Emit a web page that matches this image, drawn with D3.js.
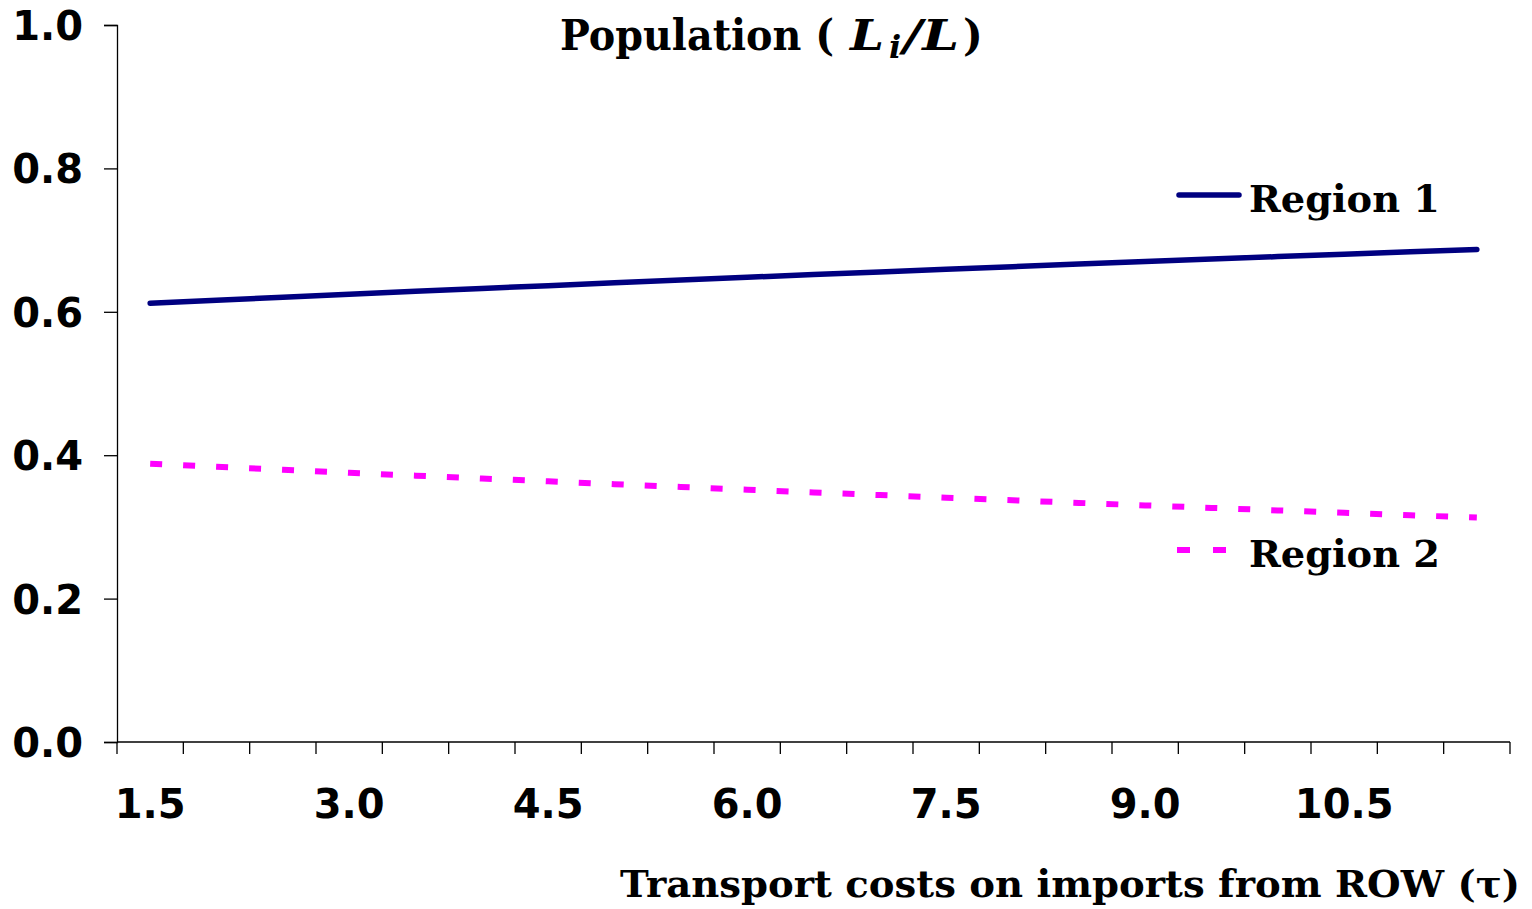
<!DOCTYPE html>
<html><head><meta charset="utf-8">
<script src="https://cdn.jsdelivr.net/npm/d3@7"></script>
<style>body{margin:0;background:#fff}</style>
</head><body>
<svg id="chart" width="1532" height="909"></svg>
<script>
const categories = [1.5,2.0,2.5,3.0,3.5,4.0,4.5,5.0,5.5,6.0,6.5,7.0,7.5,8.0,8.5,9.0,9.5,10.0,10.5,11.0,11.5];
const region1 = [0.6120,0.6162,0.6203,0.6245,0.6285,0.6325,0.6365,0.6404,0.6443,0.6481,0.6519,0.6556,0.6593,0.6629,0.6665,0.6700,0.6735,0.6770,0.6803,0.6837,0.6870];
const region2 = [0.3880,0.3838,0.3797,0.3755,0.3715,0.3675,0.3635,0.3596,0.3557,0.3519,0.3481,0.3444,0.3407,0.3371,0.3335,0.3300,0.3265,0.3230,0.3197,0.3163,0.3130];
const xTickLabels = ["1.5","3.0","4.5","6.0","7.5","9.0","10.5"];
const yTicks = [0,0.2,0.4,0.6,0.8,1.0];
const seriesNames = ["Region 1","Region 2"];

const svg = d3.select("#chart");
const L = 117, R = 1510, T = 25, B = 742;
const x = d3.scaleBand().domain(categories.map(String)).range([L,R]).padding(0);
const y = d3.scaleLinear().domain([0,1]).range([B,T]);
const numFont = "'DejaVu Sans', Verdana, sans-serif";
const serifFont = "'DejaVu Serif', 'Bookman Old Style', serif";

// Y axis
const yAxis = svg.append("g").attr("transform",`translate(${L},0)`)
  .call(d3.axisLeft(y).tickValues(yTicks).tickFormat(d3.format(".1f")).tickSize(13).tickPadding(21));
yAxis.select(".domain").attr("stroke","#000").attr("stroke-width",1.3);
yAxis.selectAll(".tick line").attr("stroke","#000").attr("stroke-width",1.3);
yAxis.selectAll(".tick text").attr("font-family",numFont).attr("font-weight","bold")
  .attr("font-size",40).attr("fill","#000").attr("dy","0.36em");

// X axis (category, ticks between categories)
const xAxisG = svg.append("g").attr("transform",`translate(0,${B})`);
xAxisG.append("line").attr("x1",L).attr("x2",R).attr("y1",0).attr("y2",0).attr("stroke","#000").attr("stroke-width",1.3);
const boundaries = categories.map(c => x(String(c))).concat([R]);
xAxisG.selectAll("line.tk").data(boundaries).join("line").attr("class","tk")
  .attr("x1",d=>d).attr("x2",d=>d).attr("y1",0).attr("y2",12).attr("stroke","#000").attr("stroke-width",1.3);
xAxisG.selectAll("text").data(xTickLabels).join("text")
  .attr("x",d=>x(String(+d)) + x.bandwidth()/2).attr("y",76)
  .attr("text-anchor","middle").attr("font-family",numFont).attr("font-weight","bold")
  .attr("font-size",40).attr("fill","#000").text(d=>d);

// Lines
const line = d3.line().x((d,i)=>x(String(categories[i]))+x.bandwidth()/2).y(d=>y(d));
svg.append("path").datum(region1).attr("d",line).attr("fill","none")
  .attr("stroke","#000080").attr("stroke-width",5.5).attr("stroke-linecap","round");
svg.append("path").datum(region2).attr("d",line).attr("fill","none")
  .attr("stroke","#FF00FF").attr("stroke-width",6).attr("stroke-dasharray","12,21");

// Legend
const lg = svg.append("g");
lg.append("line").attr("x1",1179).attr("x2",1239).attr("y1",195).attr("y2",195)
  .attr("stroke","#000080").attr("stroke-width",5.5).attr("stroke-linecap","round");
lg.append("line").attr("x1",1177).attr("x2",1226).attr("y1",550).attr("y2",550)
  .attr("stroke","#FF00FF").attr("stroke-width",6).attr("stroke-dasharray","13,23");
lg.selectAll("text").data(seriesNames).join("text")
  .attr("x",1249).attr("y",(d,i)=> i===0 ? 212 : 567)
  .attr("font-family",serifFont).attr("font-weight","bold").attr("font-size",38).attr("fill","#000")
  .attr("textLength",191).attr("lengthAdjust","spacingAndGlyphs")
  .text(d=>d);

// Title
const title = svg.append("text").attr("y",50)
  .attr("font-family",serifFont).attr("font-weight","bold").attr("font-size",42).attr("fill","#000");
title.append("tspan").attr("x",560).attr("textLength",274).attr("lengthAdjust","spacingAndGlyphs").text("Population (");
title.append("tspan").attr("x",850).attr("font-style","italic").attr("textLength",34).attr("lengthAdjust","spacingAndGlyphs").text("L");
title.append("tspan").attr("x",889).attr("font-style","italic").attr("font-size",32).attr("dy",8).text("i");
title.append("tspan").attr("x",903).attr("dy",-8).attr("font-style","italic").attr("textLength",56).attr("lengthAdjust","spacingAndGlyphs").text("/L");
title.append("tspan").attr("x",963).text(")");

// X axis title
svg.append("text").attr("x",620).attr("y",897)
  .attr("font-family",serifFont).attr("font-weight","bold").attr("font-size",38).attr("fill","#000")
  .attr("textLength",900).attr("lengthAdjust","spacingAndGlyphs")
  .text("Transport costs on imports from ROW (τ)");
</script>
</body></html>
